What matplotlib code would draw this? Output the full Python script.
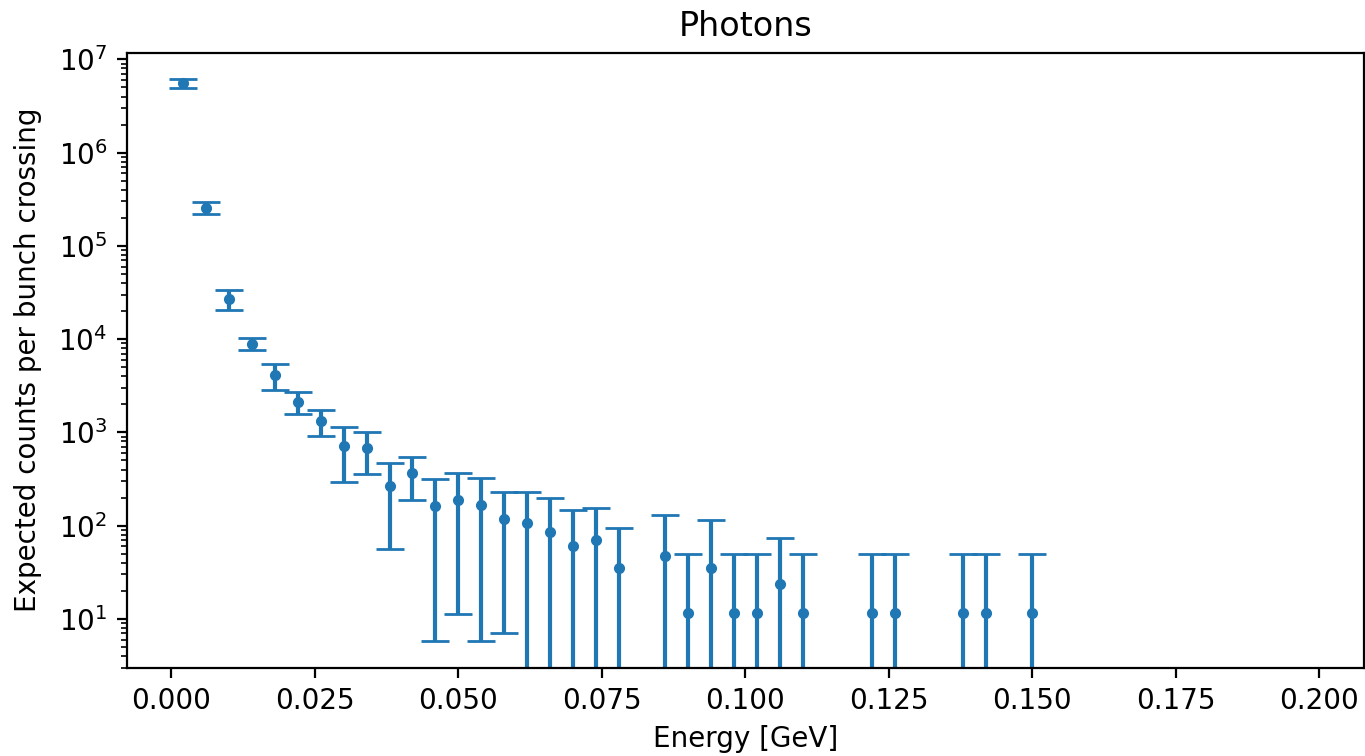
import matplotlib
matplotlib.use("Agg")
import matplotlib.pyplot as plt

# bin centres [GeV] of the non-empty bins
energy = [0.002, 0.006, 0.010, 0.014, 0.018, 0.022, 0.026, 0.030, 0.034, 0.038,
          0.042, 0.046, 0.050, 0.054, 0.058, 0.062, 0.066, 0.070, 0.074, 0.078,
          0.086, 0.090, 0.094, 0.098, 0.102, 0.106, 0.110, 0.122, 0.126, 0.138,
          0.142, 0.150]

# expected counts per bunch crossing
counts = [5.52e6, 2.57e5, 2.72e4, 8.98e3, 4.1e3, 2.13e3, 1.32e3, 722, 680, 265,
          369, 161.4, 190.6, 165.4, 118, 108, 85, 60, 70, 35,
          47, 11.7, 35, 11.7, 11.7, 23.5, 11.7, 11.7, 11.7, 11.7,
          11.7, 11.7]

# symmetric uncertainties
errors = [6.3e5, 3.65e4, 6.7e3, 1.33e3, 1.28e3, 565, 410, 430, 324, 209,
          181, 155.6, 179.4, 159.6, 111, 122, 112, 88, 84, 59,
          84, 37.7, 80, 37.7, 37.7, 49.8, 37.7, 37.7, 37.7, 37.7,
          37.7, 37.7]

dpi = 200
fig = plt.figure(figsize=(1365 / dpi, 756 / dpi), dpi=dpi)
ax = fig.add_axes([126.7 / 1365, 1 - 667.7 / 756,
                   (1364 - 126.7) / 1365, (667.7 - 52.7) / 756])

ax.errorbar(energy, counts, yerr=errors, fmt='.', capsize=5, color='#1f77b4')

ax.set_yscale('log')
ax.set_xlim(-0.0078, 0.2078)
ax.set_ylim(3.0, 1.18e7)

ax.set_title('Photons')
ax.set_xlabel('Energy [GeV]', labelpad=3.5)
ax.set_ylabel('Expected counts per bunch crossing', labelpad=6)

fig.savefig('out.png', dpi=dpi)
